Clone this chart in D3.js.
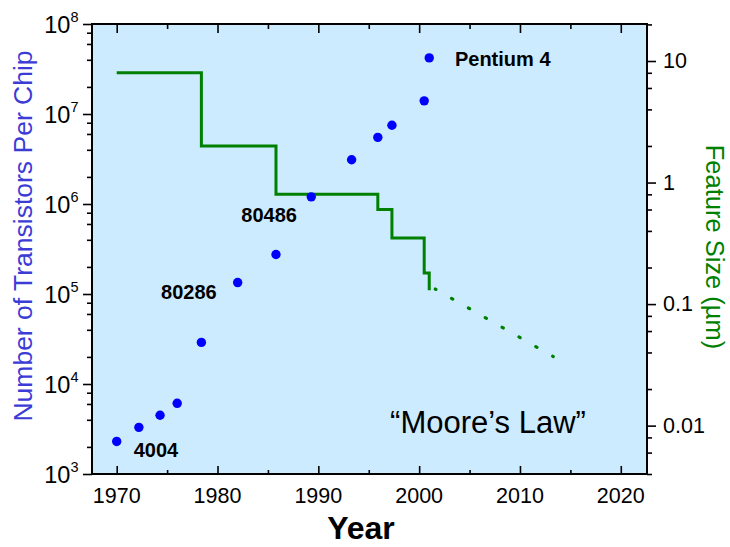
<!DOCTYPE html>
<html>
<head>
<meta charset="utf-8">
<script src="https://cdn.jsdelivr.net/npm/d3@7"></script>
<style>
  html, body { margin: 0; padding: 0; background: #fff; }
  svg { display: block; font-family: Arial, "Liberation Sans", Helvetica, sans-serif; }
</style>
</head>
<body>
<svg id="chart" width="730" height="547"></svg>
<script>
// ---------------- data ----------------
const chipYears = [1970, 1972.2, 1974.3, 1976, 1978.4, 1982, 1985.8, 1989.3, 1993.3, 1995.9, 1997.3, 2000.5, 2001];
const transistorCounts = [2300, 3300, 4500, 6100, 29000, 134000, 275000, 1200000, 3100000, 5500000, 7500000, 14000000, 42000000];

const stepYears = [1970, 1978.4, 1985.8, 1995.9, 1997.3, 2000.5, 2001.0];
const featureSizes = [8, 2, 0.8, 0.6, 0.35, 0.18, 0.13];

const projYears = [2001.6, 2013.3];
const projSizes = [0.133, 0.037];

const chipNames = ["4004", "80286", "80486", "Pentium 4"];
const chipNameIndex = [0, 5, 7, 12];

const xTicks = [1970, 1980, 1990, 2000, 2010, 2020];
const xMinorTicks = [1975, 1985, 1995, 2005, 2015];
const leftTicks = [1e3, 1e4, 1e5, 1e6, 1e7, 1e8];
const rightTicks = [0.01, 0.1, 1, 10];
const rightTickLabels = ["0.01", "0.1", "1", "10"];

// ---------------- layout ----------------
const svg = d3.select("#chart");
const L = 92, R = 647, T = 24, B = 474;
const x = d3.scaleLinear().domain([1967.55, 2022.6]).range([L, R]);
const yL = d3.scaleLog().domain([1e3, 1e8]).range([B, T]);
const yR = d3.scaleLog().domain([0.004, 20.16]).range([B, T]);

const green = "#008000";
const blue = "#0000ff";

svg.append("rect").attr("x", L).attr("y", T).attr("width", R - L).attr("height", B - T)
  .attr("fill", "#ccebff");

// minor tick helpers
function logMinors(scale) {
  const [a, b] = scale.domain();
  const out = [];
  for (let e = Math.floor(Math.log10(a)) - 1; e <= Math.ceil(Math.log10(b)); e++) {
    [2, 4, 6, 8].forEach(m => {
      const v = m * Math.pow(10, e);
      if (v >= a * 0.999 && v <= b * 1.001) out.push(v);
    });
  }
  return out;
}

function styleAxis(g) {
  g.select(".domain").remove();
  g.selectAll("line").attr("stroke", "#000").attr("stroke-width", 1.6);
}

// bottom (inward)
svg.append("g").attr("transform", `translate(0,${B})`)
  .call(d3.axisBottom(x).tickValues(xTicks).tickSize(-8).tickFormat(""))
  .call(styleAxis);
svg.append("g").attr("transform", `translate(0,${B})`)
  .call(d3.axisBottom(x).tickValues(xMinorTicks).tickSize(-4).tickFormat(""))
  .call(styleAxis);
// top (inward)
svg.append("g").attr("transform", `translate(0,${T})`)
  .call(d3.axisTop(x).tickValues(xTicks).tickSize(-9).tickFormat(""))
  .call(styleAxis);
svg.append("g").attr("transform", `translate(0,${T})`)
  .call(d3.axisTop(x).tickValues(xMinorTicks).tickSize(-5).tickFormat(""))
  .call(styleAxis);
// left (outward)
svg.append("g").attr("transform", `translate(${L},0)`)
  .call(d3.axisLeft(yL).tickValues(leftTicks).tickSize(9).tickFormat(""))
  .call(styleAxis);
svg.append("g").attr("transform", `translate(${L},0)`)
  .call(d3.axisLeft(yL).tickValues(logMinors(yL)).tickSize(5).tickFormat(""))
  .call(styleAxis);
// right (outward)
svg.append("g").attr("transform", `translate(${R},0)`)
  .call(d3.axisRight(yR).tickValues(rightTicks).tickSize(9).tickFormat(""))
  .call(styleAxis);
svg.append("g").attr("transform", `translate(${R},0)`)
  .call(d3.axisRight(yR).tickValues(logMinors(yR)).tickSize(5).tickFormat(""))
  .call(styleAxis);

// frame
svg.append("rect").attr("x", L).attr("y", T).attr("width", R - L).attr("height", B - T)
  .attr("fill", "none").attr("stroke", "#000").attr("stroke-width", 2);

// x tick labels
svg.append("g").selectAll("text").data(xTicks).join("text")
  .attr("x", d => x(d)).attr("y", 503)
  .attr("text-anchor", "middle").attr("font-size", 21.5).attr("fill", "#000")
  .text(d => d);

// left tick labels 10^n
const ll = svg.append("g").selectAll("text").data(leftTicks).join("text")
  .attr("x", 78.5).attr("y", d => yL(d) + 9.3)
  .attr("text-anchor", "end").attr("fill", "#000");
ll.append("tspan").attr("font-size", 23.5).text("10");
ll.append("tspan").attr("font-size", 14.5).attr("dy", -11.5)
  .text(d => Math.round(Math.log10(d)));

// right tick labels
svg.append("g").selectAll("text").data(rightTicks).join("text")
  .attr("x", 663).attr("y", d => yR(d) + 7.3)
  .attr("text-anchor", "start").attr("font-size", 21.5).attr("fill", "#000")
  .text((d, i) => rightTickLabels[i]);

// axis titles
svg.append("text").attr("transform", "translate(31.5,236) rotate(-90)")
  .attr("text-anchor", "middle").attr("font-size", 26.5).attr("fill", "#3b3bd6")
  .text("Number of Transistors Per Chip");
svg.append("text").attr("transform", "translate(705.5,247) rotate(90)")
  .attr("text-anchor", "middle").attr("font-size", 25.5).attr("fill", green)
  .text("Feature Size (\u00b5m)");
svg.append("text").attr("x", 361).attr("y", 539)
  .attr("text-anchor", "middle").attr("font-size", 32).attr("font-weight", "bold").attr("fill", "#000")
  .text("Year");

// feature size step line
const stepData = stepYears.map((yr, i) => [yr, featureSizes[i]]);
svg.append("path").datum(stepData)
  .attr("d", d3.line().x(d => x(d[0])).y(d => yR(d[1])).curve(d3.curveStepAfter))
  .attr("fill", "none").attr("stroke", green).attr("stroke-width", 3)
  .attr("stroke-linejoin", "miter").attr("stroke-linecap", "butt");

// projected (dotted) line
const projData = projYears.map((yr, i) => [yr, projSizes[i]]);
const proj = svg.append("path").datum(projData)
  .attr("d", d3.line().x(d => x(d[0])).y(d => yR(d[1])))
  .attr("fill", "none").attr("stroke", green).attr("stroke-width", 3.2)
  .attr("stroke-linecap", "round");
const plen = proj.node().getTotalLength();
const period = plen / 7;
proj.attr("stroke-dasharray", `1.4 ${period - 1.4}`).attr("stroke-dashoffset", 0.7);

// transistor dots
svg.append("g").selectAll("circle").data(chipYears).join("circle")
  .attr("cx", d => x(d)).attr("cy", (d, i) => yL(transistorCounts[i]))
  .attr("r", 4.7).attr("fill", blue);

// chip labels
const labelPlace = [
  { dx: 17, dy: 15.5, anchor: "start" },
  { dx: -21, dy: 16.3, anchor: "end" },
  { dx: -14.3, dy: 24.7, anchor: "end" },
  { dx: 25.7, dy: 8, anchor: "start" }
];
svg.append("g").selectAll("text").data(chipNames).join("text")
  .attr("x", (d, i) => x(chipYears[chipNameIndex[i]]) + labelPlace[i].dx)
  .attr("y", (d, i) => yL(transistorCounts[chipNameIndex[i]]) + labelPlace[i].dy)
  .attr("text-anchor", (d, i) => labelPlace[i].anchor)
  .attr("font-size", 20).attr("font-weight", "bold").attr("fill", "#000")
  .text(d => d);

// Moore's Law
svg.append("text").attr("x", 488).attr("y", 433)
  .attr("text-anchor", "middle").attr("font-size", 31).attr("fill", "#000")
  .text("\u201cMoore\u2019s Law\u201d");
</script>
</body>
</html>
